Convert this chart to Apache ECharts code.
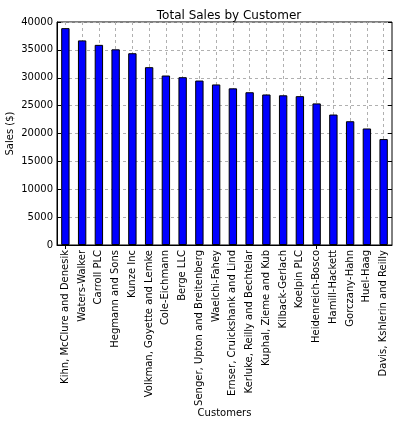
<!DOCTYPE html>
<html>
<head>
<meta charset="utf-8">
<script src="https://cdn.jsdelivr.net/npm/echarts@6/dist/echarts.min.js"></script>
<style>
  html, body { margin: 0; padding: 0; background: #fff; }
  #chart { width: 398px; height: 426px; }
</style>
</head>
<body>
<div id="chart"></div>
<script>
var customers = [
    'Kihn, McClure and Denesik', 'Waters-Walker', 'Carroll PLC', 'Hegmann and Sons',
    'Kunze Inc', 'Volkman, Goyette and Lemke', 'Cole-Eichmann', 'Berge LLC',
    'Senger, Upton and Breitenberg', 'Waelchi-Fahey', 'Ernser, Cruickshank and Lind',
    'Kerluke, Reilly and Bechtelar', 'Kuphal, Zieme and Kub', 'Kilback-Gerlach',
    'Koelpin PLC', 'Heidenreich-Bosco', 'Hamill-Hackett', 'Gorczany-Hahn',
    'Huel-Haag', 'Davis, Kshlerin and Reilly'
];
var sales = [
    38900, 36700, 35900, 35100, 34400, 31900, 30400, 30100, 29500, 28800,
    28100, 27400, 27000, 26850, 26700, 25400, 23400, 22200, 20900, 19000
];

var font = 'DejaVu Sans';
var chart = echarts.init(document.getElementById('chart'));

var option = {
    backgroundColor: '#fff',
    animation: false,
    textStyle: { fontFamily: font },
    title: {
        text: 'Total Sales by Customer',
        left: 224, textAlign: 'center', top: 5,
        textStyle: { fontFamily: font, fontSize: 12, fontWeight: 'normal', color: '#000' }
    },
    grid: {
        left: 57, right: 6, top: 22, bottom: 181,
        containLabel: false, outerBoundsMode: 'none',
        show: true, borderColor: '#000', borderWidth: 1, backgroundColor: 'transparent'
    },
    xAxis: [{
        type: 'category',
        data: customers,
        name: 'Customers',
        nameLocation: 'middle',
        nameGap: 163,
        nameMoveOverlap: false,
        nameTextStyle: { fontFamily: font, fontSize: 10, color: '#000' },
        axisLine: { show: true, lineStyle: { color: '#000' } },
        axisTick: { show: true, inside: true, alignWithLabel: true, length: 4, lineStyle: { color: '#000' } },
        axisLabel: { rotate: 90, interval: 0, fontFamily: font, fontSize: 10, color: '#000', margin: 5 },
        splitLine: { show: true, alignWithLabel: true, lineStyle: { color: '#b0b0b0', type: [3, 3] } }
    }, {
        type: 'category',
        data: customers,
        position: 'top',
        axisLine: { show: false },
        axisTick: { show: true, inside: true, alignWithLabel: true, length: 4, lineStyle: { color: '#000' } },
        axisLabel: { show: false },
        splitLine: { show: false }
    }],
    yAxis: [{
        type: 'value',
        min: 0, max: 40000, interval: 5000,
        name: 'Sales ($)',
        nameLocation: 'middle',
        nameGap: 42,
        nameRotate: 90,
        nameMoveOverlap: false,
        nameTextStyle: { fontFamily: font, fontSize: 10, color: '#000' },
        axisLine: { show: true, lineStyle: { color: '#000' } },
        axisTick: { show: true, inside: true, length: 4, lineStyle: { color: '#000' } },
        axisLabel: { fontFamily: font, fontSize: 10, color: '#000', margin: 4,
            formatter: function (v) { return String(v); } },
        splitLine: { show: true, lineStyle: { color: '#b0b0b0', type: [3, 3] } }
    }, {
        type: 'value',
        min: 0, max: 40000, interval: 5000,
        position: 'right',
        axisLine: { show: false },
        axisTick: { show: true, inside: true, length: 4, lineStyle: { color: '#000' } },
        axisLabel: { show: false },
        splitLine: { show: false }
    }],
    series: [{
        type: 'bar',
        data: sales,
        barWidth: '50%',
        itemStyle: { color: '#0000ff', borderColor: '#000', borderWidth: 1 }
    }]
};

chart.setOption(option);
</script>
</body>
</html>
